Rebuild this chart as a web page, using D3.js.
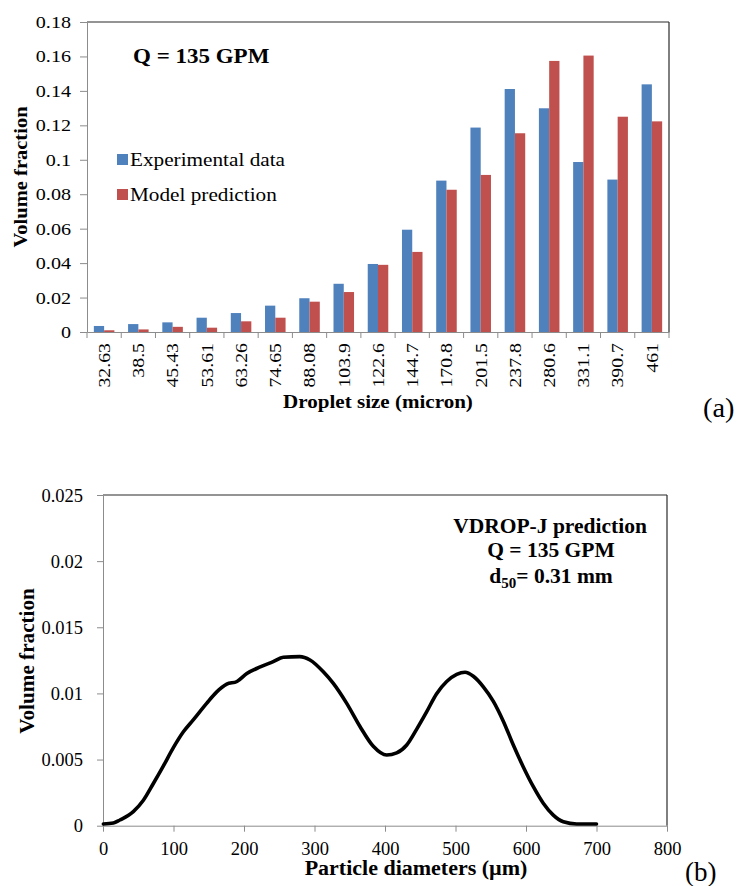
<!DOCTYPE html>
<html>
<head>
<meta charset="utf-8">
<script src="https://cdn.jsdelivr.net/npm/d3@7"></script>
<style>
  html, body { margin: 0; padding: 0; background: #fff; }
  svg { display: block; }
  text { font-family: "Liberation Serif", "Times New Roman", serif; fill: #000; }
</style>
</head>
<body>
<svg id="chart" width="740" height="886"></svg>
<script>
// ---------- DATA: chart (a) ----------
const dropletSizes = ["32.63","38.5","45.43","53.61","63.26","74.65","88.08","103.9","122.6","144.7","170.8","201.5","237.8","280.6","331.1","390.7","461"];
const experimentalData = [0.0035,0.0046,0.0056,0.0083,0.011,0.0153,0.0196,0.028,0.0395,0.0594,0.0879,0.1187,0.1411,0.1299,0.0987,0.0885,0.1438];
const modelPrediction  = [0.001,0.0015,0.003,0.0025,0.0062,0.0083,0.0176,0.0232,0.039,0.0465,0.0826,0.0912,0.1154,0.1574,0.1605,0.125,0.1223];
const seriesNames = ["Experimental data","Model prediction"];
const seriesColors = ["#4F81BD","#C0504D"];
const yTicksA = [0,0.02,0.04,0.06,0.08,0.1,0.12,0.14,0.16,0.18];
const yTickLabelsA = ["0","0.02","0.04","0.06","0.08","0.1","0.12","0.14","0.16","0.18"];

// ---------- DATA: chart (b) ----------
const diameters = [0.5,14.7,24,43,57,71,85.5,99.8,114,128,147,161,175.5,190,204,223,241.5,255.7,279,293.6,312.5,326.7,345.7,364.5,383.4,402.4,416.6,430.8,445,459,473,487.5,501.7,513.5,525.3,539.5,553.7,567.8,582,596,610.4,624.5,638.7,653,672,700];
const volFraction = [0.00013,0.0002,0.00043,0.00106,0.0019,0.00315,0.0045,0.0059,0.0071,0.0080,0.00925,0.0101,0.0107,0.0109,0.0115,0.0120,0.0124,0.01273,0.01278,0.01253,0.01164,0.01076,0.00925,0.0075,0.0060,0.00534,0.0055,0.0061,0.0073,0.0086,0.00996,0.0109,0.01144,0.0116,0.0113,0.0105,0.0094,0.0079,0.0061,0.00446,0.00295,0.0017,0.0008,0.0003,0.00013,0.00013];
const xTicksB = [0,100,200,300,400,500,600,700,800];
const yTicksB = [0,0.005,0.01,0.015,0.02,0.025];
const yTickLabelsB = ["0","0.005","0.01","0.015","0.02","0.025"];

const svg = d3.select("#chart");
const AXIS = "#8c8c8c", FRAME = "#2a2a2a";
const SERIF = '"Liberation Serif", "Times New Roman", serif';

// helper: text with horizontal glyph stretch
function label(g, x, y, str, o = {}) {
  return g.append("text")
    .attr("transform", `translate(${x},${y}) rotate(${o.rot || 0}) scale(${o.sx || 1},1)`)
    .attr("text-anchor", o.anchor || "start")
    .style("font-family", SERIF)
    .style("font-size", (o.size || 16) + "px")
    .style("font-weight", o.bold ? "bold" : "normal")
    .text(str);
}

// ================= Chart (a) =================
const A = { left: 87, right: 669, top: 22, bottom: 332 };
const gA = svg.append("g");
const xA = d3.scaleBand().domain(dropletSizes).range([A.left, A.right]).paddingInner(0.4).paddingOuter(0.2);
const xSub = d3.scaleBand().domain(seriesNames).range([0, xA.bandwidth()]);
const yA = d3.scaleLinear().domain([0, 0.18]).range([A.bottom, A.top]);

gA.append("line").attr("x1", A.left).attr("x2", A.right).attr("y1", A.top).attr("y2", A.top).attr("stroke", FRAME).attr("stroke-width", 1.2);
gA.append("line").attr("x1", A.right).attr("x2", A.right).attr("y1", A.top).attr("y2", A.bottom).attr("stroke", FRAME).attr("stroke-width", 1.2);

const series = [experimentalData, modelPrediction];
series.forEach((vals, si) => {
  gA.selectAll(null).data(vals).enter().append("rect")
    .attr("x", (d, i) => xA(dropletSizes[i]) + xSub(seriesNames[si]))
    .attr("width", xSub.bandwidth())
    .attr("y", d => yA(d))
    .attr("height", d => yA(0) - yA(d))
    .attr("fill", seriesColors[si]);
});

const yAxA = gA.append("g").attr("transform", `translate(${A.left},0)`)
  .call(d3.axisLeft(yA).tickValues(yTicksA).tickFormat((d, i) => yTickLabelsA[i]).tickSize(7).tickSizeOuter(0));
yAxA.select(".domain").attr("stroke", AXIS);
yAxA.selectAll(".tick line").attr("stroke", AXIS);
yAxA.selectAll(".tick text").attr("x", null).attr("dy", null)
  .attr("transform", "translate(-16,5.5) scale(1.15,1)")
  .attr("text-anchor", "end").attr("fill", "#000")
  .style("font-size", "17.5px").style("font-family", SERIF);

const xAxA = gA.append("g").attr("transform", `translate(0,${A.bottom})`)
  .call(d3.axisBottom(xA).tickSize(0).tickSizeOuter(0));
xAxA.select(".domain").attr("stroke", AXIS);
xAxA.selectAll(".tick text").attr("x", null).attr("y", null).attr("dy", null)
  .attr("transform", "translate(5.8,11) rotate(-90) scale(1.2,1)")
  .attr("text-anchor", "end").attr("fill", "#000")
  .style("font-size", "16.5px").style("font-family", SERIF);
const bounds = d3.range(dropletSizes.length + 1).map(i => xA.range()[0] + i * xA.step());
gA.selectAll(null).data(bounds).enter().append("line")
  .attr("x1", d => d).attr("x2", d => d).attr("y1", A.bottom).attr("y2", A.bottom + 6)
  .attr("stroke", AXIS);

label(gA, 27, 177, "Volume fraction", { rot: -90, anchor: "middle", bold: true, size: 18, sx: 1.14 });
label(gA, 378, 408, "Droplet size (micron)", { anchor: "middle", bold: true, size: 18, sx: 1.17 });
label(gA, 133, 63, "Q = 135 GPM", { bold: true, size: 20, sx: 1.15 });
label(svg, 703, 417, "(a)", { size: 27, sx: 1.05 });

const legY = [160, 195];
seriesNames.forEach((n, i) => {
  gA.append("rect").attr("x", 117).attr("y", legY[i] - 6).attr("width", 11).attr("height", 11).attr("fill", seriesColors[i]);
  label(gA, 130, legY[i] + 6, n, { size: 18, sx: 1.18 });
});

// ================= Chart (b) =================
const B = { left: 103, right: 667, top: 495, bottom: 825.7 };
const gB = svg.append("g");
const xB = d3.scaleLinear().domain([0, 800]).range([B.left, B.right]);
const yB = d3.scaleLinear().domain([0, 0.025]).range([B.bottom, B.top]);

gB.append("line").attr("x1", B.left).attr("x2", B.right).attr("y1", B.top).attr("y2", B.top).attr("stroke", FRAME).attr("stroke-width", 1.2);
gB.append("line").attr("x1", B.right).attr("x2", B.right).attr("y1", B.top).attr("y2", B.bottom).attr("stroke", FRAME).attr("stroke-width", 1.2);

const yAxB = gB.append("g").attr("transform", `translate(${B.left},0)`)
  .call(d3.axisLeft(yB).tickValues(yTicksB).tickFormat((d, i) => yTickLabelsB[i]).tickSize(6).tickSizeOuter(0));
yAxB.select(".domain").attr("stroke", AXIS);
yAxB.selectAll(".tick line").attr("stroke", AXIS);
yAxB.selectAll(".tick text").attr("x", -20).attr("dy", "0.33em")
  .attr("text-anchor", "end").attr("fill", "#000")
  .style("font-size", "18.5px").style("font-family", SERIF);

const xAxB = gB.append("g").attr("transform", `translate(0,${B.bottom})`)
  .call(d3.axisBottom(xB).tickValues(xTicksB).tickFormat(d3.format("d")).tickSize(6).tickSizeOuter(0));
xAxB.select(".domain").attr("stroke", AXIS);
xAxB.selectAll(".tick line").attr("stroke", AXIS);
xAxB.selectAll(".tick text").attr("y", 29).attr("dy", null)
  .attr("fill", "#000")
  .style("font-size", "18.5px").style("font-family", SERIF);

const line = d3.line().x((d, i) => xB(diameters[i])).y(d => yB(d)).curve(d3.curveMonotoneX);
gB.append("path").datum(volFraction).attr("d", line)
  .attr("fill", "none").attr("stroke", "#000").attr("stroke-width", 3.6)
  .attr("stroke-linejoin", "round").attr("stroke-linecap", "round");

label(gB, 34, 661, "Volume fraction", { rot: -90, anchor: "middle", bold: true, size: 20, sx: 1.06 });
label(gB, 416, 875, "Particle diameters (\u00b5m)", { anchor: "middle", bold: true, size: 20, sx: 1.1 });
label(svg, 685, 881, "(b)", { size: 27 });

label(gB, 550, 533, "VDROP-J prediction", { anchor: "middle", bold: true, size: 21.5 });
label(gB, 551, 557, "Q = 135 GPM", { anchor: "middle", bold: true, size: 21.5 });
const d50 = gB.append("text").attr("transform", "translate(551,583)").attr("text-anchor", "middle")
  .style("font-family", SERIF).style("font-size", "21.5px").style("font-weight", "bold");
d50.append("tspan").text("d");
d50.append("tspan").attr("dy", 5).style("font-size", "15px").text("50");
d50.append("tspan").attr("dy", -5).text("= 0.31 mm");
</script>
</body>
</html>
